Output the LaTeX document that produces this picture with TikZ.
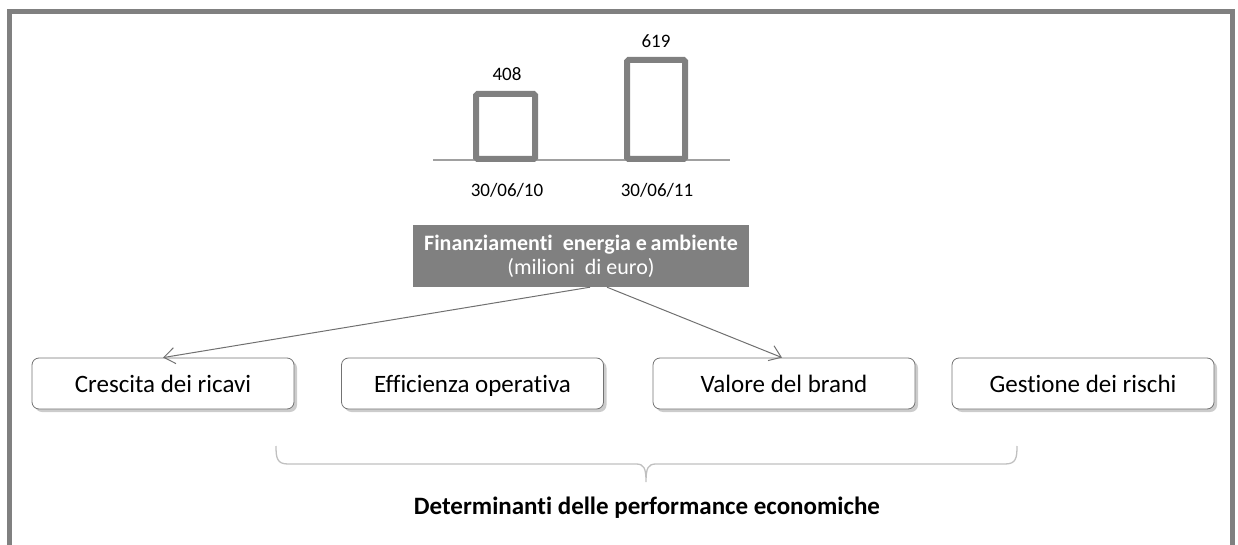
\documentclass[tikz,border=0pt]{standalone}
\usepackage{fontspec}
\setmainfont{Carlito}[Ligatures={NoCommon}]
\usetikzlibrary{arrows.meta,shadows}
\definecolor{frame}{HTML}{808080}
\definecolor{bar}{HTML}{808080}
\definecolor{axis}{HTML}{A0A0A0}
\definecolor{brace}{HTML}{C0C0C0}
\definecolor{arr}{HTML}{707070}
\tikzset{
  driver/.style={draw=black!55, line width=0.8pt, rounded corners=7pt, fill=white,
    minimum width=262pt, minimum height=51pt, inner sep=0pt,
    text height=22pt, text depth=5pt,
    font=\fontsize{25}{29}\selectfont,
    drop shadow={opacity=0.4, shadow xshift=3pt, shadow yshift=-3pt}},
  barbox/.style={draw=bar, line width=6pt, rounded corners=1.5pt},
  lbl/.style={font=\fontsize{19}{22}\selectfont, inner sep=0pt},
  link/.style={draw=arr, line width=1pt, -{Straight Barb[length=11pt,width=16pt,line width=1pt]}},
}
\begin{document}
\begin{tikzpicture}[x=1pt,y=-1pt]
\useasboundingbox (0,0) rectangle (1238,545);
% frame
\draw[frame, line width=5pt] (9.5,545) -- (9.5,11.5) -- (1232.5,11.5) -- (1232.5,545);
% chart
\draw[axis, line width=1.2pt] (433,160) -- (730,160);
\draw[barbox] (476,159) rectangle (535,94);
\draw[barbox] (627,159) rectangle (685,60);
\node[lbl] (v1) at (507,74) {408};
\node[lbl] (v2) at (656,41) {619};
\node[lbl] (d1) at (507,190) {30/06/10};
\node[lbl] (d2) at (657,190) {30/06/11};
% title
\node[fill=bar, text=white, minimum width=336pt, minimum height=62pt, inner sep=0pt, align=center,
      font=\fontsize{22}{24}\selectfont] (fin) at (581,256)
  {\textbf{Finanziamenti\ \ energia e\,ambiente}\\(milioni\ \ di euro)};
% drivers
\node[driver] (c1) at (163,383.5) {Crescita dei ricavi};
\node[driver] (c2) at (472.5,383.5) {Efficienza operativa};
\node[driver] (c3) at (784,383.5) {Valore del brand};
\node[driver] (c4) at (1083,383.5) {Gestione dei rischi};
% arrows
\draw[link] ([xshift=9pt]fin.south) -- (c1.north);
\draw[link] ([xshift=26pt]fin.south) -- ([xshift=-2pt]c3.north);
% brace
\coordinate (bl) at (276,446);
\coordinate (br) at (1017,446);
\coordinate (bm) at (646,482);
\draw[brace, line width=1.3pt] (bl) .. controls (276,458) and (277,464) .. (288,464)
  -- (636,464) .. controls (644,464) and (646,468) .. (bm)
  .. controls (646,468) and (648,464) .. (656,464)
  -- (1005,464) .. controls (1016,464) and (1017,458) .. (br);
\node[font=\bfseries\fontsize{25}{29}\selectfont, inner sep=0pt] (det) at (647,508) {Determinanti delle performance economiche};
\end{tikzpicture}
\end{document}
